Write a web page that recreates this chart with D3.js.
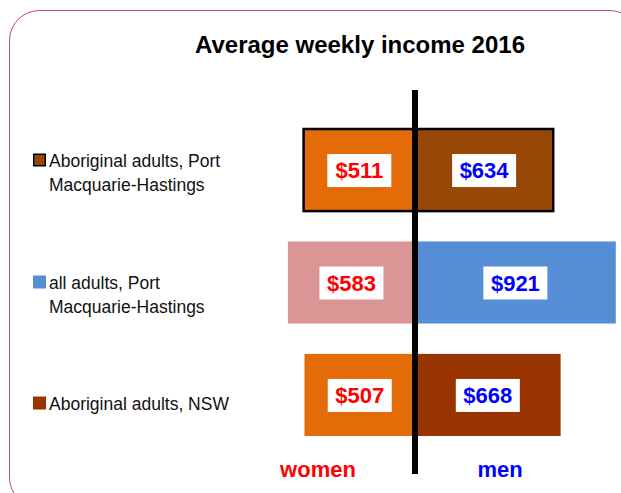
<!DOCTYPE html>
<html>
<head>
<meta charset="utf-8">
<script src="https://cdn.jsdelivr.net/npm/d3@7"></script>
<style>
  body { margin: 0; background: #fff; }
  svg { display: block; font-family: "Liberation Sans", Arial, sans-serif; }
</style>
</head>
<body>
<svg width="621" height="493"></svg>
<script>
const GROUPS = ['Aboriginal adults, Port Macquarie-Hastings', 'all adults, Port Macquarie-Hastings', 'Aboriginal adults, NSW']
const LEGEND_LINES = [['Aboriginal adults, Port', 'Macquarie-Hastings'], ['all adults, Port', 'Macquarie-Hastings'], ['Aboriginal adults, NSW']]
const WOMEN = [511, 583, 507]
const MEN = [634, 921, 668]
const WOMEN_COLORS = ['#E36C09', '#D99694', '#E36C09']
const MEN_COLORS = ['#974706', '#558ED5', '#993300']

const svg = d3.select('svg')
const centerX = 415

svg.append('rect')
  .attr('x', 9.5).attr('y', 10.5)
  .attr('width', 630).attr('height', 497)
  .attr('rx', 30)
  .attr('fill', 'none')
  .attr('stroke', '#C0504D')
  .attr('stroke-width', 1)

svg.append('text')
  .attr('x', 360).attr('y', 53)
  .attr('text-anchor', 'middle')
  .attr('font-weight', 'bold')
  .attr('font-size', 24)
  .text('Average weekly income 2016')

const y = d3.scaleBand().domain(GROUPS).range([129, 436]).paddingInner(0.27)
const xMen = d3.scaleLinear().domain([0, 1000]).range([centerX, centerX + 218])
const xWomen = d3.scaleLinear().domain([0, 1000]).range([centerX, centerX - 218])

const rows = GROUPS.map((g, i) => ({ g, i, women: WOMEN[i], men: MEN[i] }))

const row = svg.append('g').selectAll('g')
  .data(rows)
  .enter().append('g')

row.append('rect')
  .attr('x', d => xWomen(d.women))
  .attr('y', d => y(d.g))
  .attr('width', d => centerX - xWomen(d.women))
  .attr('height', y.bandwidth())
  .attr('fill', d => WOMEN_COLORS[d.i])

row.append('rect')
  .attr('x', centerX)
  .attr('y', d => y(d.g))
  .attr('width', d => xMen(d.men) - centerX)
  .attr('height', y.bandwidth())
  .attr('fill', d => MEN_COLORS[d.i])

// outline only on the first group
svg.append('rect')
  .attr('x', xWomen(WOMEN[0]))
  .attr('y', y(GROUPS[0]))
  .attr('width', xMen(MEN[0]) - xWomen(WOMEN[0]))
  .attr('height', y.bandwidth())
  .attr('fill', 'none')
  .attr('stroke', '#000')
  .attr('stroke-width', 2.5)

const labels = [
  { key: 'women', x: d => (xWomen(d.women) + centerX) / 2, color: '#FF0000' },
  { key: 'men', x: d => (xMen(d.men) + centerX) / 2, color: '#0000FF' }
]

labels.forEach(l => {
  row.append('rect')
    .attr('x', d => l.x(d) - 32)
    .attr('y', d => y(d.g) + y.bandwidth() / 2 - 16)
    .attr('width', 64)
    .attr('height', 33)
    .attr('fill', '#fff')
  row.append('text')
    .attr('x', d => l.x(d))
    .attr('y', d => y(d.g) + y.bandwidth() / 2 + 8)
    .attr('text-anchor', 'middle')
    .attr('font-weight', 'bold')
    .attr('font-size', 22)
    .attr('fill', l.color)
    .text(d => '$' + d[l.key])
})

svg.append('line')
  .attr('x1', centerX).attr('x2', centerX)
  .attr('y1', 90).attr('y2', 474)
  .attr('stroke', '#000')
  .attr('stroke-width', 6)

// legend
const legendY = [160, 282, 403]
const legend = svg.append('g').selectAll('g')
  .data(rows)
  .enter().append('g')
  .attr('transform', d => `translate(33,${legendY[d.i]})`)

legend.append('rect')
  .attr('x', d => d.i === 0 ? 0.75 : 0)
  .attr('y', d => d.i === 0 ? -5.75 : -6.5)
  .attr('width', d => d.i === 0 ? 11.5 : 13)
  .attr('height', d => d.i === 0 ? 11.5 : 13)
  .attr('fill', d => MEN_COLORS[d.i])
  .attr('stroke', d => d.i === 0 ? '#000' : 'none')
  .attr('stroke-width', 1.5)

legend.selectAll('text')
  .data(d => LEGEND_LINES[d.i])
  .enter().append('text')
  .attr('x', 16)
  .attr('y', (d, j) => 7 + j * 24)
  .attr('font-size', 17.5)
  .attr('fill', '#111')
  .text(d => d)

svg.append('text')
  .attr('x', 318).attr('y', 477)
  .attr('text-anchor', 'middle')
  .attr('font-weight', 'bold')
  .attr('font-size', 22)
  .attr('fill', '#FF0000')
  .text('women')

svg.append('text')
  .attr('x', 500).attr('y', 477)
  .attr('text-anchor', 'middle')
  .attr('font-weight', 'bold')
  .attr('font-size', 22)
  .attr('fill', '#0000FF')
  .text('men')
</script>
</body>
</html>
